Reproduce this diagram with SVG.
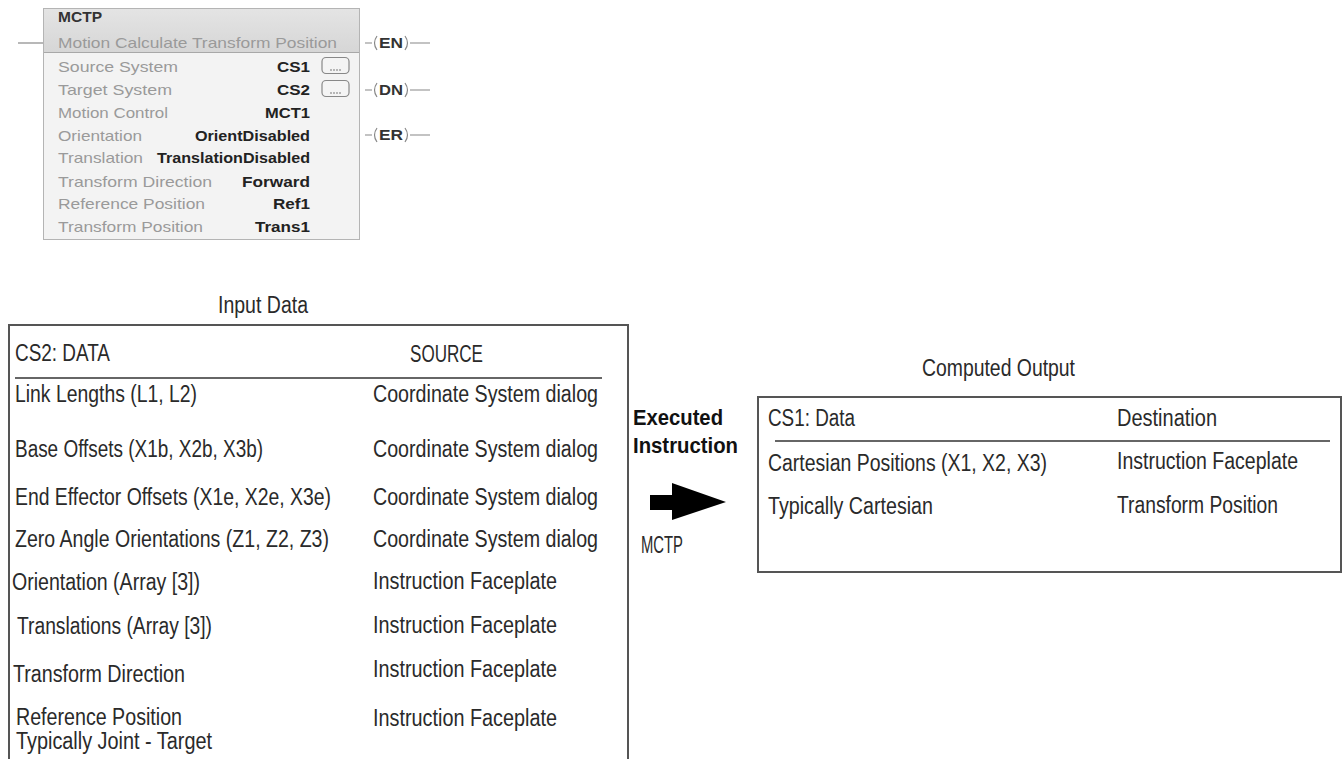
<svg xmlns="http://www.w3.org/2000/svg" width="1344" height="759" viewBox="0 0 1344 759">
<defs>
<linearGradient id="hdr" x1="0" y1="0" x2="0" y2="1">
<stop offset="0" stop-color="#e4e4e4"/>
<stop offset="1" stop-color="#d6d6d6"/>
</linearGradient>
<style>
.lbl{font-family:"Liberation Sans",Arial,sans-serif;font-size:15px;fill:#9a9a9a}
.val{font-family:"Liberation Sans",Arial,sans-serif;font-size:15px;font-weight:bold;fill:#222}
.coil{font-family:"Liberation Sans",Arial,sans-serif;font-size:15px;font-weight:bold;fill:#333}
.wire{stroke:#888;stroke-width:1.2;fill:none}
.btn{fill:#f4f4f4;stroke:#888;stroke-width:1.2}
.t{font-family:"Liberation Sans",Arial,sans-serif;font-size:23px;fill:#2a2a2a}
.tb{font-family:"Liberation Sans",Arial,sans-serif;font-size:22px;font-weight:bold;fill:#111}
.box{fill:none;stroke:#555;stroke-width:2}
.sep{stroke:#333;stroke-width:1.5}
</style>
</defs>
<rect width="1344" height="759" fill="#fff"/>

<g id="mctp-block">
<rect x="43.5" y="8.5" width="316" height="231" fill="#f3f3f3" stroke="#b4b4b4"/>
<rect x="44" y="9" width="315" height="43" fill="url(#hdr)"/>
<line x1="44" y1="52.5" x2="359" y2="52.5" stroke="#a8a8a8"/>
<text x="58" y="22" class="val" textLength="44" lengthAdjust="spacingAndGlyphs" style="fill:#333">MCTP</text>
<text x="58" y="48" class="lbl" textLength="279" lengthAdjust="spacingAndGlyphs">Motion Calculate Transform Position</text>
<text x="58" y="72" class="lbl" textLength="120" lengthAdjust="spacingAndGlyphs">Source System</text>
<text x="58" y="95" class="lbl" textLength="114" lengthAdjust="spacingAndGlyphs">Target System</text>
<text x="58" y="118" class="lbl" textLength="110" lengthAdjust="spacingAndGlyphs">Motion Control</text>
<text x="58" y="141" class="lbl" textLength="84" lengthAdjust="spacingAndGlyphs">Orientation</text>
<text x="58" y="163" class="lbl" textLength="85" lengthAdjust="spacingAndGlyphs">Translation</text>
<text x="58" y="187" class="lbl" textLength="154" lengthAdjust="spacingAndGlyphs">Transform Direction</text>
<text x="58" y="209" class="lbl" textLength="147" lengthAdjust="spacingAndGlyphs">Reference Position</text>
<text x="58" y="232" class="lbl" textLength="145" lengthAdjust="spacingAndGlyphs">Transform Position</text>
<text x="277" y="72" class="val" textLength="33" lengthAdjust="spacingAndGlyphs">CS1</text>
<text x="277" y="95" class="val" textLength="33" lengthAdjust="spacingAndGlyphs">CS2</text>
<text x="265" y="118" class="val" textLength="45" lengthAdjust="spacingAndGlyphs">MCT1</text>
<text x="195" y="141" class="val" textLength="115" lengthAdjust="spacingAndGlyphs">OrientDisabled</text>
<text x="157" y="163" class="val" textLength="153" lengthAdjust="spacingAndGlyphs">TranslationDisabled</text>
<text x="242" y="187" class="val" textLength="68" lengthAdjust="spacingAndGlyphs">Forward</text>
<text x="273" y="209" class="val" textLength="37" lengthAdjust="spacingAndGlyphs">Ref1</text>
<text x="255" y="232" class="val" textLength="55" lengthAdjust="spacingAndGlyphs">Trans1</text>
<rect x="322" y="57.5" width="27" height="16" rx="4" class="btn"/>
<circle cx="331" cy="70" r="0.8" fill="#666"/><circle cx="334" cy="70" r="0.8" fill="#666"/><circle cx="337" cy="70" r="0.8" fill="#666"/><circle cx="340" cy="70" r="0.8" fill="#666"/>
<rect x="322" y="80.5" width="27" height="16" rx="4" class="btn"/>
<circle cx="331" cy="93" r="0.8" fill="#666"/><circle cx="334" cy="93" r="0.8" fill="#666"/><circle cx="337" cy="93" r="0.8" fill="#666"/><circle cx="340" cy="93" r="0.8" fill="#666"/>
</g>

<g id="coil-en">
<path class="wire" d="M365,43 H372 M377,36 Q372,43 377,50 M405,36 Q410,43 405,50 M410,43 H430"/>
<text x="379" y="48" class="coil" textLength="24" lengthAdjust="spacingAndGlyphs">EN</text>
</g>
<g id="coil-dn">
<path class="wire" d="M365,90 H372 M377,83 Q372,90 377,97 M405,83 Q410,90 405,97 M410,90 H430"/>
<text x="379" y="95" class="coil" textLength="24" lengthAdjust="spacingAndGlyphs">DN</text>
</g>
<g id="coil-er">
<path class="wire" d="M365,135 H372 M377,128 Q372,135 377,142 M405,128 Q410,135 405,142 M410,135 H430"/>
<text x="379" y="140" class="coil" textLength="24" lengthAdjust="spacingAndGlyphs">ER</text>
</g>

<g id="input-data">
<text x="218" y="313" class="t" textLength="90" lengthAdjust="spacingAndGlyphs">Input Data</text>
<path class="box" d="M9,760 V325 H628 V760"/>
<text x="15" y="361" class="t" textLength="95" lengthAdjust="spacingAndGlyphs">CS2: DATA</text>
<text x="410" y="362" class="t" textLength="73" lengthAdjust="spacingAndGlyphs">SOURCE</text>
<line x1="15" y1="378" x2="602" y2="378" class="sep"/>
<text x="15" y="402" class="t" textLength="182" lengthAdjust="spacingAndGlyphs">Link Lengths (L1, L2)</text>
<text x="15" y="457" class="t" textLength="248" lengthAdjust="spacingAndGlyphs">Base Offsets (X1b, X2b, X3b)</text>
<text x="15" y="505" class="t" textLength="316" lengthAdjust="spacingAndGlyphs">End Effector Offsets (X1e, X2e, X3e)</text>
<text x="15" y="547" class="t" textLength="314" lengthAdjust="spacingAndGlyphs">Zero Angle Orientations (Z1, Z2, Z3)</text>
<text x="12" y="590" class="t" textLength="188" lengthAdjust="spacingAndGlyphs">Orientation (Array [3])</text>
<text x="17" y="634" class="t" textLength="195" lengthAdjust="spacingAndGlyphs">Translations (Array [3])</text>
<text x="13" y="682" class="t" textLength="172" lengthAdjust="spacingAndGlyphs">Transform Direction</text>
<text x="16" y="725" class="t" textLength="166" lengthAdjust="spacingAndGlyphs">Reference Position</text>
<text x="16" y="749" class="t" textLength="196" lengthAdjust="spacingAndGlyphs">Typically Joint - Target</text>
<text x="373" y="402" class="t" textLength="225" lengthAdjust="spacingAndGlyphs">Coordinate System dialog</text>
<text x="373" y="457" class="t" textLength="225" lengthAdjust="spacingAndGlyphs">Coordinate System dialog</text>
<text x="373" y="505" class="t" textLength="225" lengthAdjust="spacingAndGlyphs">Coordinate System dialog</text>
<text x="373" y="547" class="t" textLength="225" lengthAdjust="spacingAndGlyphs">Coordinate System dialog</text>
<text x="373" y="589" class="t" textLength="184" lengthAdjust="spacingAndGlyphs">Instruction Faceplate</text>
<text x="373" y="633" class="t" textLength="184" lengthAdjust="spacingAndGlyphs">Instruction Faceplate</text>
<text x="373" y="677" class="t" textLength="184" lengthAdjust="spacingAndGlyphs">Instruction Faceplate</text>
<text x="373" y="726" class="t" textLength="184" lengthAdjust="spacingAndGlyphs">Instruction Faceplate</text>
</g>

<g id="executed-instruction">
<text x="633" y="425" class="tb" textLength="90" lengthAdjust="spacingAndGlyphs">Executed</text>
<text x="633" y="453" class="tb" textLength="105" lengthAdjust="spacingAndGlyphs">Instruction</text>
<text x="641" y="553" class="t" textLength="42" lengthAdjust="spacingAndGlyphs">MCTP</text>
</g>

<g id="computed-output">
<text x="922" y="376" class="t" textLength="153" lengthAdjust="spacingAndGlyphs">Computed Output</text>
<rect x="758" y="397" width="583" height="175" class="box"/>
<text x="768" y="426" class="t" textLength="87" lengthAdjust="spacingAndGlyphs">CS1: Data</text>
<text x="1117" y="426" class="t" textLength="100" lengthAdjust="spacingAndGlyphs">Destination</text>
<line x1="775" y1="441" x2="1330" y2="441" class="sep"/>
<text x="768" y="471" class="t" textLength="279" lengthAdjust="spacingAndGlyphs">Cartesian Positions (X1, X2, X3)</text>
<text x="1117" y="469" class="t" textLength="181" lengthAdjust="spacingAndGlyphs">Instruction Faceplate</text>
<text x="768" y="514" class="t" textLength="165" lengthAdjust="spacingAndGlyphs">Typically Cartesian</text>
<text x="1117" y="513" class="t" textLength="161" lengthAdjust="spacingAndGlyphs">Transform Position</text>
</g>

<g id="connectors">
<line x1="18" y1="43" x2="43" y2="43" class="wire"/>
<polygon points="650,495 672,495 672,483 726,502 672,520 672,510 650,510" fill="#000"/>
</g>
</svg>
